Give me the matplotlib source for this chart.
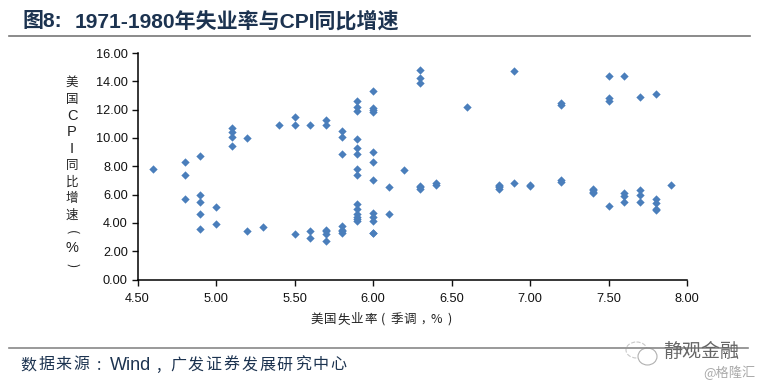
import matplotlib
matplotlib.use('Agg')
import matplotlib.pyplot as plt
from matplotlib.patches import Ellipse

# Values, grouped by unemployment rate
unemployment = [4.6, 4.8, 4.8, 4.8, 4.9, 4.9, 4.9, 4.9, 4.9, 5.0, 5.0,
                5.1, 5.1, 5.1, 5.1, 5.2, 5.2, 5.3, 5.4, 5.5, 5.5, 5.5,
                5.6, 5.6, 5.6, 5.7, 5.7, 5.7, 5.7, 5.7, 5.7,
                5.8, 5.8, 5.8, 5.8, 5.8, 5.8, 5.8,
                5.9, 5.9, 5.9, 5.9, 5.9, 5.9, 5.9, 5.9,
                5.9, 5.9, 5.9, 5.9, 5.9, 5.9,
                6.0, 6.0, 6.0, 6.0, 6.0, 6.0, 6.0, 6.0, 6.0, 6.0, 6.0, 6.0,
                6.1, 6.1, 6.2, 6.3, 6.3, 6.3, 6.3, 6.3, 6.3, 6.4, 6.4, 6.6,
                6.8, 6.8, 6.8, 6.8, 6.9, 6.9, 7.0, 7.0, 7.2, 7.2, 7.2, 7.2,
                7.4, 7.4, 7.4, 7.4, 7.5, 7.5, 7.5, 7.5, 7.6, 7.6, 7.6, 7.6,
                7.7, 7.7, 7.7, 7.7, 7.8, 7.8, 7.8, 7.8, 7.8, 7.9]
cpi = [7.8, 8.3, 7.4, 5.7, 8.7, 6.0, 5.5, 4.6, 3.6, 5.1, 3.9,
       10.7, 10.4, 10.1, 9.4, 10.0, 3.4, 3.7, 10.9, 11.5, 10.9, 3.2,
       10.9, 3.4, 2.9, 11.3, 10.9, 3.5, 3.4, 3.2, 2.7,
       10.5, 10.1, 8.9, 3.8, 3.5, 3.4, 3.3,
       12.6, 12.2, 11.9, 9.9, 9.3, 8.9, 7.8, 7.4,
       5.3, 5.0, 4.6, 4.4, 4.3, 4.1,
       13.3, 12.1, 12.0, 11.8, 9.0, 8.3, 7.0, 4.7, 4.4, 4.1, 3.3, 3.3,
       6.5, 4.6, 7.7, 14.8, 14.2, 13.9, 6.6, 6.5, 6.4, 6.8, 6.7, 12.2,
       6.7, 6.6, 6.5, 6.4, 14.7, 6.8, 6.7, 6.6, 12.5, 12.3, 7.0, 6.9,
       6.4, 6.3, 6.2, 6.1, 14.4, 12.8, 12.6, 5.2, 14.4, 6.1, 5.9, 5.5,
       12.9, 6.3, 6.0, 5.5, 13.1, 5.7, 5.4, 5.0, 4.9, 6.7]
x_ticks = [4.5, 5.0, 5.5, 6.0, 6.5, 7.0, 7.5, 8.0]
y_ticks = [0, 2, 4, 6, 8, 10, 12, 14, 16]
y_label_chars = ['美', '国', 'C', 'P', 'I', '同', '比', '增', '速', '(', '%', ')']
x_label_chars = ['美', '国', '失', '业', '率', '(', '季', '调', ',', '%', ')']

W, H = 763, 386
latin_cjk = ['Liberation Sans', 'Noto Sans CJK SC']
cjk_first = ['Noto Sans CJK SC', 'Liberation Sans']
navy = '#1c3350'
plt.rcParams['font.family'] = latin_cjk

fig = plt.figure(figsize=(W / 100, H / 100), dpi=100)
ax = fig.add_axes([137.5 / W, 1 - 279.5 / H, 549.5 / W, 226.5 / H])

ax.scatter(unemployment, cpi, marker='D', s=18, color='#4a7ebb', linewidths=0, clip_on=False, zorder=3)

ax.set_xlim(4.5, 8.0)
ax.set_ylim(0, 16)
ax.set_xticks(x_ticks)
ax.set_yticks(y_ticks)
ax.set_xticklabels(['%.2f' % v for v in x_ticks])
ax.set_yticklabels(['%.2f' % v for v in y_ticks])
ax.tick_params(labelsize=9.2, length=4, width=1.0, colors='#111111', pad=3)
ax.tick_params(axis='x', pad=6)
for side in ['top', 'right']:
    ax.spines[side].set_visible(False)
for side in ['left', 'bottom']:
    ax.spines[side].set_linewidth(1.1)
    ax.spines[side].set_color('black')

# Overlay in screen pixels for everything around the plot
page = fig.add_axes([0, 0, 1, 1], zorder=5)
page.set_xlim(0, W)
page.set_ylim(H, 0)
page.axis('off')

# Title and rules
page.text(22, 21.5, '图8:', fontsize=15.1, fontweight='bold', color=navy, va='center', family=latin_cjk)
page.text(75, 21.5, '1971-1980年失业率与CPI同比增速', fontsize=15.1, fontweight='bold', color=navy,
          va='center', family=latin_cjk)
page.plot([9, 750], [35.5, 35.5], color='#777777', lw=1.2)
page.plot([9, 748], [347.7, 347.7], color='#888888', lw=1.2)

# Vertical axis label, one character per row
for i, ch in enumerate(y_label_chars):
    rot = -90 if ch in '()' else 0
    size = 10.5 if ch in 'CPI%' else 9
    page.text(72, 82.5 + i * 16.6, ch, fontsize=size, color='#222222', ha='center', va='center',
              rotation=rot, family=cjk_first if ch not in 'CPI%' else latin_cjk)

# Horizontal axis label, wide character pitch
for i, ch in enumerate(x_label_chars):
    page.text(317 + i * 13.3, 319.5, ch, fontsize=9, color='#222222', ha='center', va='center',
              family=cjk_first)

# Source line
for i, ch in enumerate('数据来源:'):
    page.text(28.5 + i * 17.7, 365, ch, fontsize=11.5, color=navy, ha='center', va='center',
              family=cjk_first)
page.text(110, 365, 'Wind', fontsize=13, color=navy, va='center', family=latin_cjk)
page.text(158, 365, ',', fontsize=11.5, color=navy, ha='center', va='center', family=cjk_first)
for i, ch in enumerate('广发证券发展研究中心'):
    page.text(178 + i * 17.8, 365, ch, fontsize=11.5, color=navy, ha='center', va='center',
              family=cjk_first)

# Watermark
page.add_patch(Ellipse((636.5, 350), 21, 16, fc='white', ec='#c8c8c8', lw=0.8, ls='--'))
page.add_patch(Ellipse((647.5, 356.5), 19, 17, fc='white', ec='#b0b0b0', lw=0.8))
page.text(663, 351, '静观金融', fontsize=13.7, color='#666666', va='center', family=cjk_first)
page.text(703, 373, '@格隆汇', fontsize=9.5, color='#aaaaaa', va='center', family=cjk_first)

fig.savefig('out.png', dpi=100)
